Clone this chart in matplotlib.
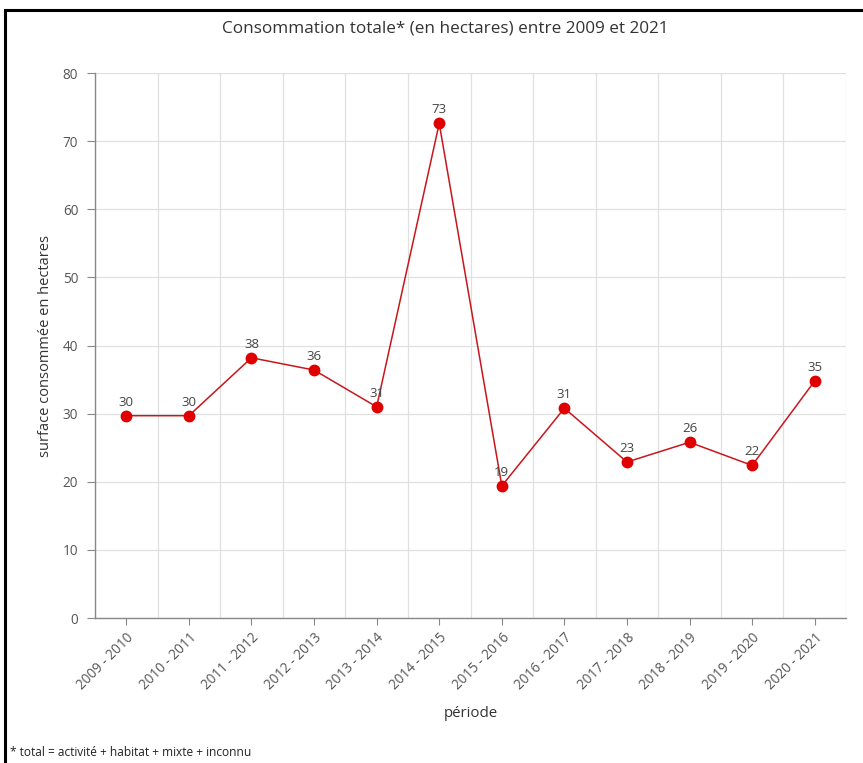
import numpy as np
import matplotlib
matplotlib.use("Agg")
import matplotlib.pyplot as plt
from matplotlib.lines import Line2D

# data
periodes = ["2009 - 2010", "2010 - 2011", "2011 - 2012", "2012 - 2013",
            "2013 - 2014", "2014 - 2015", "2015 - 2016", "2016 - 2017",
            "2017 - 2018", "2018 - 2019", "2019 - 2020", "2020 - 2021"]
surface = [29.7, 29.7, 38.2, 36.4, 31.0, 72.6, 19.4, 30.8, 22.9, 25.8, 22.4, 34.8]
etiquettes = ["30", "30", "38", "36", "31", "73", "19", "31", "23", "26", "22", "35"]
y_ticks = [0, 10, 20, 30, 40, 50, 60, 70, 80]

plt.rcParams['font.family'] = ['Open Sans', 'DejaVu Sans']

fig = plt.figure(figsize=(8.63, 7.63), dpi=100)
ax = fig.add_axes([0.1101, 0.1900, 0.8702, 0.7143])

x = np.arange(len(periodes))
ax.plot(x, surface, color="#c8161d", linewidth=1.1, zorder=3)
ax.plot(x, surface, linestyle="none", marker="o", markersize=7.5,
        color="#e00000", zorder=4)
for xi, yi, lab in zip(x, surface, etiquettes):
    ax.annotate(lab, (xi, yi), xytext=(0, 5), textcoords="offset points",
                ha="center", va="bottom", fontsize=9.5, color="#444444", zorder=5)

ax.set_xlim(-0.5, len(periodes) - 0.5)
ax.set_ylim(0, 80)
ax.set_yticks(y_ticks)
ax.set_xticks(x)
ax.set_xticklabels(periodes, rotation=45, ha="right", rotation_mode="anchor")
ax.tick_params(axis="x", colors="#888888", labelcolor="#555555", labelsize=9.8,
               length=5, pad=4)
ax.tick_params(axis="y", colors="#888888", labelcolor="#555555", labelsize=9.8,
               length=6, pad=6)

# grid : horizontal at y ticks, vertical between categories
ax.set_xticks(np.arange(-0.5, len(periodes) + 0.5, 1), minor=True)
ax.tick_params(axis="x", which="minor", length=0)
ax.grid(True, which="major", axis="y", color="#e0e0e0", linewidth=0.9)
ax.grid(True, which="minor", axis="x", color="#e0e0e0", linewidth=0.9)
ax.set_axisbelow(True)

for s in ["top", "right"]:
    ax.spines[s].set_visible(False)
for s in ["left", "bottom"]:
    ax.spines[s].set_color("#888888")
    ax.spines[s].set_linewidth(1.0)

ax.set_ylabel("surface consommée en hectares", fontsize=10.5, color="#333333")
ax.yaxis.set_label_coords(-0.056, 0.5)
fig.text(0.545, 0.065, "période", ha="center", va="center", fontsize=10.8,
         color="#333333")
fig.text(0.516, 0.963, "Consommation totale* (en hectares) entre 2009 et 2021",
         ha="center", va="center", fontsize=12.3, color="#333333", weight="medium")
fig.text(0.012, 0.014, "* total = activité + habitat + mixte + inconnu",
         ha="left", va="center", fontsize=8.6, color="#222222")

# black frame (top and left)
fig.add_artist(Line2D([0.006, 1.0], [0.987, 0.987], color="black", linewidth=2.2,
                      transform=fig.transFigure))
fig.add_artist(Line2D([0.006, 0.006], [0.0, 0.987], color="black", linewidth=2.2,
                      transform=fig.transFigure))

fig.savefig("out.png", dpi=100)
